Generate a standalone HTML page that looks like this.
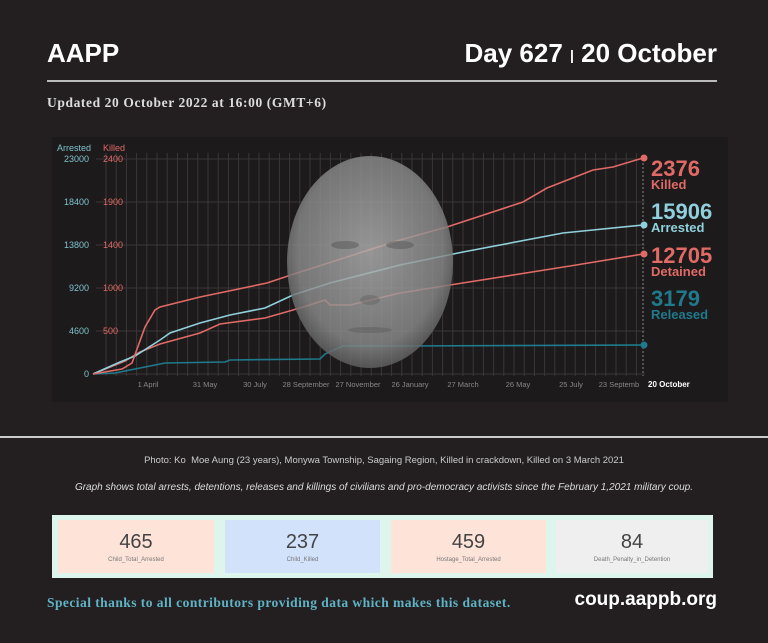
<!DOCTYPE html><html><head><style>
body{margin:0;width:768px;height:643px;background:#231f20;overflow:hidden;font-family:"Liberation Sans",sans-serif;position:relative}
.a{position:absolute;white-space:nowrap}
.card{position:absolute;top:520px;height:53px;text-align:center;color:#444}
.card b{display:block;font-weight:normal;font-size:20px;margin-top:11px}
.card i{display:block;font-style:normal;font-size:6px;color:#777;margin-top:3px}
</style></head><body>
<div class="a" style="left:47px;top:38px;color:#fff;font-weight:bold;font-size:26px">AAPP</div>
<div class="a" style="right:51px;top:38px;color:#fff;font-weight:bold;font-size:26px">Day 627 <span style="font-size:14px;vertical-align:middle">|</span> 20 October</div>
<div class="a" style="left:47px;top:80px;width:670px;height:2px;background:#bbb"></div>
<div class="a" style="left:47px;top:95px;color:#ddd;font-weight:bold;font-size:13.5px;letter-spacing:0.6px;font-family:'Liberation Serif',serif">Updated 20 October 2022 at 16:00 (GMT+6)</div>
<div class="a" style="left:52px;top:137px;width:676px;height:265px;background:#1d1a1b"></div>
<svg class="a" style="left:0;top:0" width="768" height="420">
<defs><radialGradient id="g" cx="50%" cy="45%" r="55%"><stop offset="0" stop-color="#b0b0b0"/><stop offset="0.8" stop-color="#8a8a8a"/><stop offset="1" stop-color="#606060"/></radialGradient></defs>
<g stroke="#3a3738" stroke-width="1">
<path d="M96 159H645M96 202H645M96 245H645M96 288H645M96 331H645M96 374H645"/>
</g>
<g id="vg" stroke="#3a3738" stroke-width="1"></g>
<line x1="643" y1="159" x2="643" y2="376" stroke="#888" stroke-dasharray="2 2"/>
<g fill="none" stroke-width="1.6">
<polyline stroke="#1f7a8c" points="93,374 115,373 140,368 165,363 225,362 230,360 320,359 325,354 343,346 400,346 643,345"/>
<polyline stroke="#e06a66" points="93,374 125,361 140,352 160,344 200,333 220,324 265,318 300,308 325,300 330,305 350,305 400,293 450,285 570,266 643,254"/>
<polyline stroke="#8fd0dc" points="93,374 120,362 135,356 160,340 170,333 200,323 230,315 265,308 293,295 330,283 400,265 463,252 563,233 643,225"/>
<polyline stroke="#e06a66" points="93,374 122,369 132,363 145,327 155,310 160,307 200,297 267,283 297,273 400,240 447,227 523,202 547,188 593,170 613,167 643,158"/>
</g>
<ellipse cx="370" cy="262" rx="83" ry="106" fill="url(#g)" opacity="0.82"/>
<ellipse cx="345" cy="245" rx="14" ry="4" fill="#555" opacity=".5"/><ellipse cx="400" cy="245" rx="14" ry="4" fill="#555" opacity=".5"/>
<ellipse cx="370" cy="300" rx="10" ry="5" fill="#555" opacity=".35"/><ellipse cx="370" cy="330" rx="22" ry="3" fill="#555" opacity=".4"/>
<circle cx="644" cy="158" r="3.5" fill="#e06a66"/><circle cx="644" cy="225" r="3.5" fill="#8fd0dc"/><circle cx="644" cy="254" r="3.5" fill="#e06a66"/><circle cx="644" cy="345" r="3.5" fill="#1f7a8c"/>
<g font-size="9" font-family="Liberation Sans,sans-serif">
<text x="57" y="151" fill="#7fc3cf">Arrested</text><text x="103" y="151" fill="#e06a66">Killed</text>
<g fill="#7fc3cf" text-anchor="end"><text x="89" y="162">23000</text><text x="89" y="205">18400</text><text x="89" y="248">13800</text><text x="89" y="291">9200</text><text x="89" y="334">4600</text><text x="89" y="377">0</text></g>
<g fill="#e06a66"><text x="103" y="162">2400</text><text x="103" y="205">1900</text><text x="103" y="248">1400</text><text x="103" y="291">1000</text><text x="103" y="334">500</text></g>
<g fill="#888" font-size="7.5" text-anchor="middle"><text x="148" y="387">1 April</text><text x="205" y="387">31 May</text><text x="255" y="387">30 July</text><text x="306" y="387">28 September</text><text x="358" y="387">27 November</text><text x="410" y="387">26 January</text><text x="463" y="387">27 March</text><text x="518" y="387">26 May</text><text x="571" y="387">25 July</text><text x="619" y="387">23 Septemb</text></g>
<text x="648" y="387" fill="#fff" font-weight="bold" font-size="8">20 October</text>
</g>
<g font-family="Liberation Sans,sans-serif" font-weight="bold">
<text x="651" y="176" fill="#e06a66" font-size="22">2376</text><text x="651" y="189" fill="#e06a66" font-size="13">Killed</text>
<text x="651" y="219" fill="#8fd0dc" font-size="22">15906</text><text x="651" y="232" fill="#8fd0dc" font-size="13">Arrested</text>
<text x="651" y="263" fill="#e06a66" font-size="22">12705</text><text x="651" y="276" fill="#e06a66" font-size="13">Detained</text>
<text x="651" y="306" fill="#1f7a8c" font-size="22">3179</text><text x="651" y="319" fill="#1f7a8c" font-size="13">Released</text>
</g>
</svg>
<script>
var g=document.getElementById('vg'),s='';for(var x=106;x<643;x+=10.2)s+='M'+x.toFixed(1)+' 153V376';
g.innerHTML='<path d="'+s+'"/>';
</script>
<div class="a" style="left:0;top:436px;width:768px;height:2px;background:#ccc"></div>
<div class="a" style="left:0;width:768px;top:455px;text-align:center;color:#ccc;font-size:9.5px">Photo: Ko&nbsp; Moe Aung (23 years), Monywa Township, Sagaing Region, Killed in crackdown, Killed on 3 March 2021</div>
<div class="a" style="left:0;width:768px;top:482px;text-align:center;color:#ddd;font-size:10px;font-style:italic">Graph shows total arrests, detentions, releases and killings of civilians and pro-democracy activists since the February 1,2021 military coup.</div>
<div class="a" style="left:52px;top:515px;width:661px;height:63px;background:#def5ee"></div>
<div class="card" style="left:58px;width:156px;background:#fde3d8"><b>465</b><i>Child_Total_Arrested</i></div>
<div class="card" style="left:225px;width:155px;background:#d2e2fb"><b>237</b><i>Child_Killed</i></div>
<div class="card" style="left:391px;width:155px;background:#fde3d8"><b>459</b><i>Hostage_Total_Arrested</i></div>
<div class="card" style="left:556px;width:152px;background:#efefef"><b>84</b><i>Death_Penalty_in_Detention</i></div>
<div class="a" style="left:47px;top:595px;color:#5fb3c4;font-weight:bold;font-size:13.5px;letter-spacing:0.45px;font-family:'Liberation Serif',serif">Special thanks to all contributors providing data which makes this dataset.</div>
<div class="a" style="right:51px;top:589px;color:#fff;font-weight:bold;font-size:19px">coup.aappb.org</div>
</body></html>
